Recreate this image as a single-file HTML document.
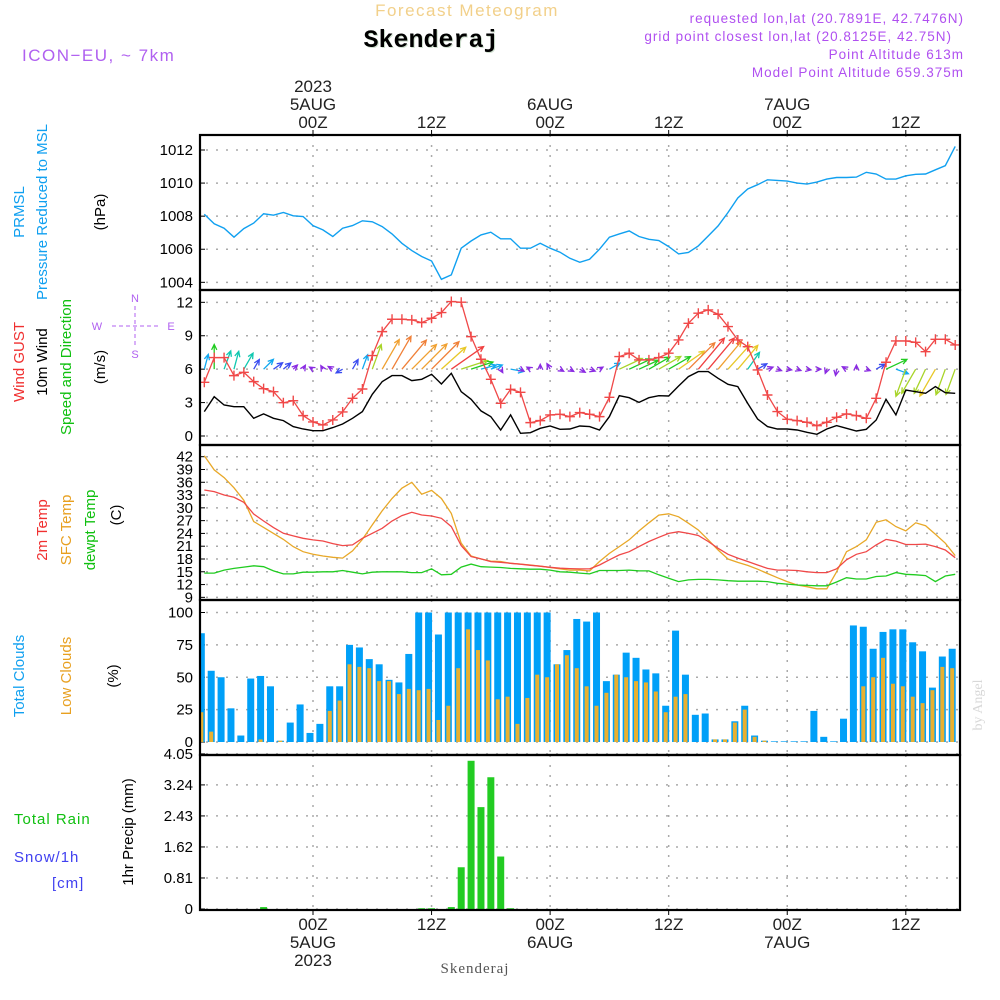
<!DOCTYPE html>
<html><head><meta charset="utf-8"><style>
html,body{margin:0;padding:0;background:#fff;}
svg{display:block;font-family:"Liberation Sans",sans-serif;}
</style></head><body>
<svg id="chart" width="1000" height="1000" viewBox="0 0 1000 1000" xmlns="http://www.w3.org/2000/svg">
<rect x="0" y="0" width="1000" height="1000" fill="#fff"/>
<text x="467" y="16" text-anchor="middle" font-size="17" fill="#f2d08a" letter-spacing="1.5">Forecast Meteogram</text>
<text x="432" y="48" text-anchor="middle" font-family="Liberation Mono,monospace" font-weight="bold" font-size="25" fill="#cfe0cf">Skenderaj</text>
<text x="431" y="47" text-anchor="middle" font-family="Liberation Mono,monospace" font-weight="bold" font-size="25" fill="#000">Skenderaj</text>
<text x="22" y="61" font-size="17" fill="#b060f0" letter-spacing="1.5">ICON−EU, ~ 7km</text>
<g font-size="13.5" fill="#b050f0" text-anchor="end" letter-spacing="1">
<text x="964" y="23">requested lon,lat (20.7891E, 42.7476N)</text>
<text x="952" y="41">grid point closest lon,lat (20.8125E, 42.75N)</text>
<text x="964" y="59">Point Altitude 613m</text>
<text x="964" y="77">Model Point Altitude 659.375m</text>
</g>
<g id="plot"></g>
<g font-size="15">
<text transform="translate(24,212) rotate(-90)" text-anchor="middle" fill="#10a0f0">PRMSL</text>
<text transform="translate(47,212) rotate(-90)" text-anchor="middle" fill="#10a0f0">Pressure Reduced to MSL</text>
<text transform="translate(105,212) rotate(-90)" text-anchor="middle" fill="#000">(hPa)</text>
<text transform="translate(24,362) rotate(-90)" text-anchor="middle" fill="#f03030">Wind GUST</text>
<text transform="translate(47,362) rotate(-90)" text-anchor="middle" fill="#000">10m Wind</text>
<text transform="translate(71,367) rotate(-90)" text-anchor="middle" fill="#10c010">Speed and Direction</text>
<text transform="translate(105,367) rotate(-90)" text-anchor="middle" fill="#000">(m/s)</text>
<text transform="translate(47,530) rotate(-90)" text-anchor="middle" fill="#f03030">2m Temp</text>
<text transform="translate(71,530) rotate(-90)" text-anchor="middle" fill="#e8a020">SFC Temp</text>
<text transform="translate(95,530) rotate(-90)" text-anchor="middle" fill="#10c010">dewpt Temp</text>
<text transform="translate(121,515) rotate(-90)" text-anchor="middle" fill="#000">(C)</text>
<text transform="translate(24,676) rotate(-90)" text-anchor="middle" fill="#10a0f0">Total Clouds</text>
<text transform="translate(71,676) rotate(-90)" text-anchor="middle" fill="#e8a020">Low Clouds</text>
<text transform="translate(118,676) rotate(-90)" text-anchor="middle" fill="#000">(%)</text>
<text x="14" y="824" fill="#10c010" letter-spacing="1">Total  Rain</text>
<text x="14" y="862" fill="#4040f0" letter-spacing="1">Snow/1h</text>
<text x="52" y="888" fill="#4040f0" letter-spacing="1">[cm]</text>
<text transform="translate(133,832) rotate(-90)" text-anchor="middle" fill="#000">1hr Precip (mm)</text>
</g>
<g font-size="11" fill="#b060f0" stroke="none">
<text x="135" y="302" text-anchor="middle">N</text>
<text x="135" y="358" text-anchor="middle">S</text>
<text x="97" y="330" text-anchor="middle">W</text>
<text x="171" y="330" text-anchor="middle">E</text>
<line x1="112" y1="326" x2="158" y2="326" stroke="#b060f0" stroke-dasharray="4,3"/>
<line x1="135" y1="306" x2="135" y2="348" stroke="#b060f0" stroke-dasharray="4,3"/>
</g>
<text transform="translate(982,705) rotate(-90)" text-anchor="middle" font-family="Liberation Serif,serif" font-size="14" fill="#d8d8d8">by Angel</text>
<text x="475" y="973" text-anchor="middle" font-family="Liberation Serif,serif" font-size="15" fill="#555" letter-spacing="1">Skenderaj</text>
</svg>
<script>
// ---- data (hourly, h = -11 .. 65 relative to 00Z 5AUG 2023) ----
const hours = []; for (let h = -11; h <= 65; h++) hours.push(h);
const pressure = [1008.12,1007.54,1007.27,1006.73,1007.25,1007.58,1008.14,1008.06,1008.22,1008.02,1007.98,1007.43,1007.17,1006.77,1007.27,1007.43,1007.72,1007.66,1007.37,1006.93,1006.36,1005.92,1005.56,
1005.29,1004.18,1004.45,1006.06,1006.5,1006.87,1007.03,1006.63,1006.63,1006.06,1006.06,1006.36,1006.06,1005.82,1005.45,
1005.21,1005.39,1006.0,1006.73,1006.93,1007.11,1006.77,1006.6,1006.53,1006.16,1005.72,1005.8,1006.2,1006.8,1007.41,1008.22,1009.1,1009.64,1009.9,1010.2,1010.16,1010.12,1010.0,1009.94,1010.06,1010.24,1010.34,1010.34,1010.36,1010.65,1010.55,1010.24,1010.24,1010.44,1010.53,1010.55,1010.8,1011.05,1012.22];
const gust = [4.82,7.04,7.04,5.42,5.72,4.88,4.25,3.98,2.99,3.17,1.83,1.26,0.99,1.44,2.16,3.38,4.22,7.22,9.37,10.48,10.48,10.42,10.18,10.57,11.08,
12.07,12.01,8.92,6.89,5.09,2.93,4.19,3.92,1.2,1.38,1.89,1.95,1.74,
2.1,1.95,1.74,3.47,7.13,7.43,6.83,6.83,7.04,7.43,8.62,10.12,11.02,11.32,10.93,9.82,8.62,8.02,5.93,3.68,2.19,1.5,1.38,1.23,0.93,1.23,1.68,1.98,1.83,1.59,3.38,6.62,8.53,8.53,8.41,7.57,8.68,8.68,8.17];
const wind10 = [2.19,3.53,2.78,2.63,2.63,1.59,1.98,1.59,1.38,0.84,0.63,0.48,0.48,0.75,1.08,1.59,2.19,3.74,4.88,5.42,5.42,4.97,5.09,5.54,4.67,5.63,3.98,3.29,2.25,
1.74,0.54,1.89,0.24,0.3,0.69,0.9,0.6,0.63,0.9,
0.84,0.54,1.74,3.62,3.44,3.02,3.44,3.62,3.59,4.49,5.33,5.78,5.78,5.18,4.64,4.43,2.93,1.53,0.84,0.63,0.63,0.54,0.33,0.15,0.63,0.93,0.69,0.45,0.6,1.44,3.29,1.89,4.13,3.98,3.83,4.43,3.89,3.83];
const windDir = [15,0,20,15,30,30,45,55,50,45,30,300,330,300,240,30,20,20,30,30,40,45,45,45,48,55,72,72,75,70,150,100,120,300,0,330,120,120,120,
110,60,60,65,65,65,60,60,60,55,45,40,40,40,42,40,35,60,70,110,100,110,100,90,200,190,300,0,110,60,65,110,200,210,205,210,200,200];
const temp2m = [34.19,33.8,33.02,32.47,31.3,28.56,26.92,25.36,24.03,23.41,22.86,22.47,22.23,21.61,21.14,21.3,22.86,24.03,25.2,26.92,28.17,28.95,28.33,28.09,27.55,25.59,21.14,18.56,18.02,17.39,17.23,16.98,16.77,16.53,16.3,16.06,15.83,15.75,
15.67,15.67,16.6,17.8,18.95,19.7,20.9,22.1,23.1,24.0,24.4,24.0,23.5,22.1,20.5,19.1,18.2,17.4,16.6,15.8,15.4,15.4,15.3,15.0,14.8,14.8,15.7,17.8,19.1,19.7,21.3,22.6,22.2,21.4,21.4,21.5,20.9,20.1,18.3];
const sfcTemp = [42.2,38.9,37.1,34.7,31.8,26.8,25.4,24.0,22.6,20.9,19.7,19.1,18.7,18.4,18.2,19.9,22.6,26.0,29.3,32.2,34.6,
36.0,33.2,34.1,32.2,28.7,21.7,18.7,18.0,17.5,17.4,17.0,16.8,16.6,16.3,16.0,15.7,15.4,
15.4,15.2,17.4,19.3,20.9,22.5,24.6,26.5,28.3,28.6,27.9,26.4,24.8,22.5,20.1,18.0,17.2,16.5,15.6,14.6,13.6,12.7,11.9,11.5,11.0,11.0,15.0,19.7,20.9,22.5,26.6,27.2,25.6,24.6,26.5,25.8,23.8,21.7,18.8];
const dewpt = [14.7,14.7,15.4,15.8,16.1,16.4,16.2,15.2,14.5,14.5,14.9,14.9,15.0,15.0,15.3,14.9,14.5,14.9,15.0,15.0,15.0,
14.8,14.8,15.7,14.3,14.4,16.1,16.8,16.2,16.1,16.0,15.8,15.7,15.6,15.6,15.4,15.0,14.9,
14.7,14.5,15.3,15.3,15.3,15.4,15.2,15.2,14.3,13.5,12.7,13.1,13.2,13.2,13.1,12.9,12.8,12.8,12.8,12.7,12.3,12.1,11.9,11.8,11.7,11.7,12.6,13.6,13.3,13.3,13.9,14.0,14.8,14.4,14.3,14.1,12.7,14.0,14.4];
const totalClouds = [84,55,50,26,5,49,51,43,1,15,29,7,14,43,43,75,73,64,60,48,46,68,100,100,83,100,100,100,100,100,100,100,100,100,100,100,60,71,95,93,
100,47,52,69,65,56,53,28,86,52,21,22,2,2,16,28,5,1,0.5,0.5,0.5,0.5,24,4,0.5,18,90,89,72,85,87,87,77,70,42,66,72];
const lowClouds = [23,8,0,0,0,0,2,0,1,0,0,0,0,24,32,60,58,57,47,47,37,41,40,41,17,28,57,87,71,63,33,35,14,34,52,50,60,67,57,43,
28,38,52,50,47,46,39,23,35,37,0,0,2,2,15,25,4,1,0,0,0,0,0,0,0,0,0,43,50,65,45,43,35,30,40,58,57];
const precip = [0,0,0,0,0,0,0.05,0,0,0,0,0,0,0,0,0,0,0,0,0,0,0,0.02,0.02,0,0.05,1.09,3.87,2.66,3.44,1.37,0.02,0,0,0,0,0,0,0,0,0,0,0,0,0,0,0,0,0,0,0,0,0,0,0,0,0,0,0,0,0,0,0,0,0,0,0,0,0,0,0,0,0,0,0,0,0];
const pTicks = [1004,1006,1008,1010,1012];
const wTicks = [0,3,6,9,12];
const tTicks = [9,12,15,18,21,24,27,30,33,36,39,42];
const cTicks = [0,25,50,75,100];
const rTicks = ["0","0.81","1.62","2.43","3.24","4.05"];
const timeTicks = [0,12,24,36,48,60];
const topLabels = [["2023","5AUG","00Z"],["12Z"],["6AUG","00Z"],["12Z"],["7AUG","00Z"],["12Z"]];
const bottomLabels = [["00Z","5AUG","2023"],["12Z"],["00Z","6AUG"],["12Z"],["00Z","7AUG"],["12Z"]];

// ---- scales ----
const X0 = 200, X1 = 960;
const x = h => 313 + 9.88 * h;
const yP = v => 150 + (1012 - v) * 16.54;
const yW = v => 436 - v * 11.14;
const yT = v => 456.7 + (42 - v) * 4.262;
const yC = v => 742 - v * 1.295;
const yR = v => 909 - v * 38.3;
const panels = [[135,290],[290,445],[445,600],[600,755],[755,910]];

const NS = "http://www.w3.org/2000/svg";
const root = document.getElementById("plot");
function mk(tag, attrs, parent) {
  const e = document.createElementNS(NS, tag);
  for (const k in attrs) e.setAttribute(k, attrs[k]);
  (parent || root).appendChild(e);
  return e;
}
function linePath(vals, sy) {
  return vals.map((v, i) => (i ? "L" : "M") + x(hours[i]).toFixed(1) + "," + sy(v).toFixed(1)).join("");
}

// grids
const grid = mk("g", {stroke: "#aaa", "stroke-width": 1.5, "stroke-dasharray": "2,8"});


timeTicks.forEach(h => {
  panels.forEach(p => mk("line", {x1: x(h), x2: x(h), y1: p[0], y2: p[1]}, grid));
});
function hgrid(ticks, sy) { ticks.forEach(t => mk("line", {x1: X0 + 6, x2: X1, y1: sy(+t), y2: sy(+t)}, grid)); }
hgrid(pTicks, yP); hgrid(wTicks, yW); hgrid(tTicks, yT); hgrid(cTicks, yC); hgrid(rTicks, yR);

// y tick labels
const yl = mk("g", {"font-size": 15, fill: "#000", "text-anchor": "end"});


function ylabels(ticks, sy) {
  ticks.forEach(t => {
    const tx = mk("text", {x: 193, y: sy(+t) + 5}, yl); tx.textContent = t;
    mk("line", {x1: X0, x2: X0 + 5, y1: sy(+t), y2: sy(+t), stroke: "#000"}, yl);
  });
}
ylabels(pTicks, yP); ylabels(wTicks, yW); ylabels(tTicks, yT); ylabels(cTicks, yC); ylabels(rTicks, yR);

// time labels
const tl = mk("g", {"font-size": 17, fill: "#222", "text-anchor": "middle"});


timeTicks.forEach((h, i) => {
  const top = topLabels[i];
  top.forEach((s, j) => { const t = mk("text", {x: x(h), y: 128 - (top.length - 1 - j) * 18}, tl); t.textContent = s; });
  bottomLabels[i].forEach((s, j) => { const t = mk("text", {x: x(h), y: 930 + j * 18}, tl); t.textContent = s; });
  mk("line", {x1: x(h), x2: x(h), y1: 130, y2: 135, stroke: "#000"}, tl);
  mk("line", {x1: x(h), x2: x(h), y1: 909, y2: 915, stroke: "#000"}, tl);
});

// clip
const defs = mk("defs", {});
const cp = mk("clipPath", {id: "clip"}, defs);
mk("rect", {x: X0, y: 135, width: X1 - X0, height: 775}, cp);
const g = mk("g", {"clip-path": "url(#clip)"});



// pressure
const pl = mk("path", {d: linePath(pressure, yP), fill: "none", stroke: "#10a0f0", "stroke-width": 1.4}, g);



// wind arrows
function spdColor(s) {
  if (s < 1) return "#8a2be2";
  if (s < 1.7) return "#3a4cf0";
  if (s < 2.4) return "#10a8f0";
  if (s < 3.0) return "#10c8b0";
  if (s < 3.6) return "#20cc20";
  if (s < 4.2) return "#a8d428";
  if (s < 4.7) return "#e8c828";
  if (s < 5.2) return "#f0a030";
  if (s < 5.6) return "#f08038";
  return "#f04040";
}
const arrows = mk("g", {"stroke-width": 1.3, fill: "none"}, g);


wind10.forEach((s, i) => {
  const len = Math.max(4, s * 7);
  const a = windDir[i] * Math.PI / 180;
  const x0 = x(hours[i]), y0 = yW(6);
  const x1 = x0 + len * Math.sin(a), y1 = y0 - len * Math.cos(a);
  const hl = 6, ha = 0.45;
  const b1 = a + Math.PI - ha, b2 = a + Math.PI + ha;
  const d = `M${x0},${y0}L${x1},${y1}M${x1 + hl * Math.sin(b1)},${y1 - hl * Math.cos(b1)}L${x1},${y1}L${x1 + hl * Math.sin(b2)},${y1 - hl * Math.cos(b2)}`;
  const p = mk("path", {d: d, stroke: spdColor(s)}, arrows);
  
  
});

// 10m wind
const wl = mk("path", {d: linePath(wind10, yW), fill: "none", stroke: "#000", "stroke-width": 1.4}, g);


// gust
const gl = mk("path", {d: linePath(gust, yW), fill: "none", stroke: "#f04848", "stroke-width": 1.3}, g);


const gm = mk("g", {stroke: "#f04848", "stroke-width": 1.4}, g);


gust.forEach((v, i) => {
  const cx = x(hours[i]), cy = yW(v);
  mk("path", {d: `M${cx - 5},${cy}H${cx + 5}M${cx},${cy - 5}V${cy + 5}`}, gm);
});

// temps
[[sfcTemp, "#e8a828", "sfc-temp-line"], [temp2m, "#f04848", "temp-2m-line"], [dewpt, "#20cc20", "dewpt-line"]].forEach(s => {
  const p = mk("path", {d: linePath(s[0], yT), fill: "none", stroke: s[1], "stroke-width": 1.3}, g);
  
  
});

// clouds
const cg = mk("g", {}, g);


totalClouds.forEach((v, i) => {
  const cx = x(hours[i]) - 3;
  const b = mk("rect", {x: cx - 3.5, y: yC(v), width: 7, height: yC(0) - yC(v), fill: "#00a0f8"}, cg);
  
  
  const lv = lowClouds[i];
  if (lv > 0) {
    const l = mk("rect", {x: cx - 2, y: yC(lv), width: 4, height: yC(0) - yC(lv), fill: "#e8b030"}, cg);
    
    
  }
});

// precip
const rg = mk("g", {}, g);


precip.forEach((v, i) => {
  if (v <= 0) return;
  const cx = x(hours[i]);
  const b = mk("rect", {x: cx - 3.5, y: yR(v), width: 7, height: yR(0) - yR(v), fill: "#22cc22"}, rg);
  
  
});

// panel frames
const fr = mk("g", {fill: "none", stroke: "#000", "stroke-width": 2.2});


panels.forEach(p => mk("rect", {x: X0, y: p[0], width: X1 - X0, height: p[1] - p[0]}, fr));
</script>
</body></html>
